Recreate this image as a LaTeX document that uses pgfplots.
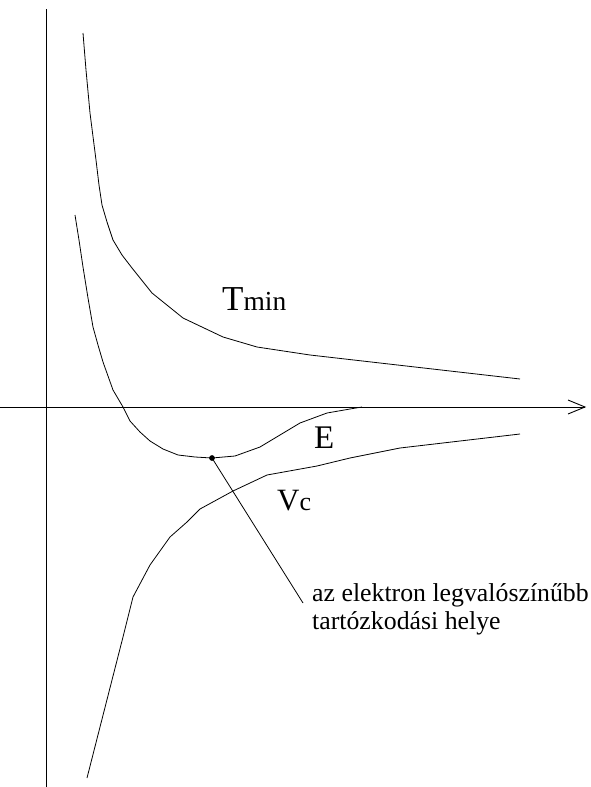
\documentclass[border=0pt]{standalone}
\usepackage{pgfplots}
\pgfplotsset{compat=1.18}
\usepackage{fontspec}
\setmainfont{Liberation Serif}
\begin{document}
\begin{tikzpicture}
\begin{axis}[
  scale only axis, width=590pt, height=787pt,
  xmin=0, xmax=590, ymin=0, ymax=787, y dir=reverse,
  axis lines=none, clip=false,
]
% axes
\addplot[black, line width=1pt] coordinates {(46,9) (46,787)};
\addplot[black, line width=1pt] coordinates {(0,407) (585,407)};
\addplot[black, line width=0.9pt] coordinates {(568,400) (585,407) (568,414)};
% T_min
\addplot[black, line width=0.8pt] coordinates {
 (83,33) (86,70) (90,113) (96,160) (99,185) (102,205) (107,222) (113,240)
 (122,255) (132,268) (152,293) (183,318) (223,337) (257,347) (310,355)
 (380,363) (450,371) (520,379)};
% E
\addplot[black, line width=0.8pt] coordinates {
 (75,215) (79,240) (83,267) (88,298) (93,327) (98,345) (103,362) (113,390)
 (123,407) (130,421) (140,432) (150,441) (163,449) (178,455) (195,457)
 (212,458) (235,456) (260,447) (280,435) (300,423) (327,413) (350,409) (362,407)};
% V_c
\addplot[black, line width=0.8pt] coordinates {
 (87,778) (100,727) (112,680) (123,637) (133,597) (150,565) (170,537)
 (187,522) (200,509) (233,491) (267,475) (317,466) (350,458) (400,448)
 (460,441) (520,434)};
% leader
\addplot[black, line width=0.8pt] coordinates {(212,458) (303,603)};
\addplot[black, only marks, mark=*, mark size=2.6pt] coordinates {(212,458)};
% labels
\node[anchor=base west, inner sep=0] at (axis cs:222,310) {\fontsize{35}{37}\selectfont T\fontsize{27.5}{29}\selectfont min};
\node[anchor=base west, inner sep=0] at (axis cs:314,448) {\fontsize{33}{35}\selectfont E};
\node[anchor=base west, inner sep=0] at (axis cs:277,510) {\fontsize{31}{33}\selectfont V\fontsize{26}{28}\selectfont c};
\node[anchor=base west, inner sep=0] at (axis cs:312,601) {\fontsize{25.8}{28}\selectfont az elektron legvalószínűbb};
\node[anchor=base west, inner sep=0] at (axis cs:312,629) {\fontsize{25.8}{28}\selectfont tartózkodási helye};
\end{axis}
\pgfresetboundingbox
\useasboundingbox (current axis.south west) rectangle (current axis.north east);
\end{tikzpicture}
\end{document}
